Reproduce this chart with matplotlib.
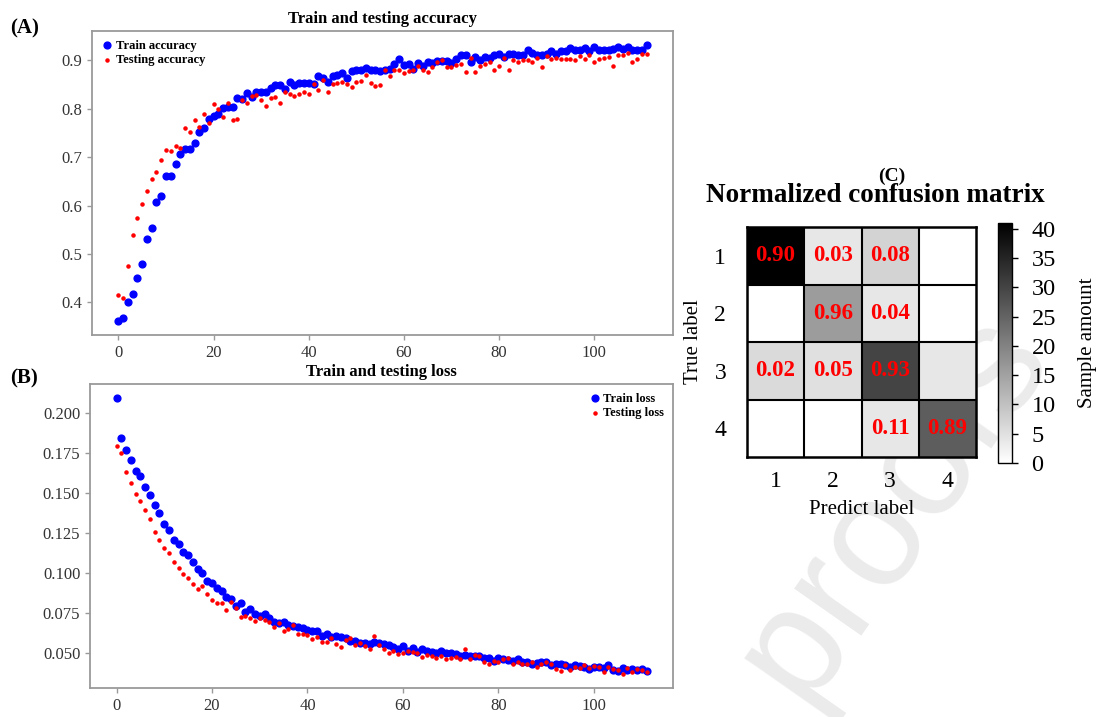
import numpy as np
import matplotlib
matplotlib.use("Agg")
import matplotlib.pyplot as plt

plt.rcParams['font.family'] = ['Liberation Serif', 'DejaVu Serif']

# ---------------- data ----------------
epochs = list(range(112))

train_acc = [0.361, 0.368, 0.401, 0.417, 0.451, 0.479, 0.530, 0.554, 0.607, 0.620,
             0.660, 0.660, 0.686, 0.706, 0.716, 0.716, 0.729, 0.752, 0.760, 0.779,
             0.785, 0.789, 0.802, 0.804, 0.804, 0.822, 0.820, 0.833, 0.825, 0.835,
             0.835, 0.834, 0.843, 0.848, 0.849, 0.841, 0.856, 0.848, 0.853, 0.854,
             0.854, 0.851, 0.867, 0.863, 0.855, 0.868, 0.870, 0.873, 0.864, 0.878,
             0.879, 0.879, 0.884, 0.881, 0.880, 0.878, 0.881, 0.882, 0.892, 0.903,
             0.890, 0.892, 0.883, 0.894, 0.888, 0.896, 0.895, 0.899, 0.899, 0.898,
             0.895, 0.903, 0.911, 0.911, 0.896, 0.906, 0.900, 0.907, 0.905, 0.910,
             0.912, 0.907, 0.914, 0.914, 0.910, 0.911, 0.921, 0.916, 0.911, 0.911,
             0.914, 0.919, 0.912, 0.919, 0.919, 0.925, 0.921, 0.921, 0.925, 0.920,
             0.928, 0.922, 0.922, 0.922, 0.924, 0.928, 0.923, 0.928, 0.921, 0.921,
             0.922, 0.932]

test_acc = [0.416, 0.409, 0.476, 0.539, 0.574, 0.603, 0.631, 0.654, 0.669, 0.695,
            0.714, 0.712, 0.723, 0.719, 0.761, 0.751, 0.776, 0.763, 0.789, 0.770,
            0.809, 0.800, 0.782, 0.811, 0.776, 0.779, 0.818, 0.811, 0.827, 0.828,
            0.818, 0.806, 0.823, 0.825, 0.811, 0.835, 0.830, 0.827, 0.830, 0.835,
            0.830, 0.851, 0.839, 0.859, 0.834, 0.851, 0.853, 0.855, 0.851, 0.844,
            0.855, 0.858, 0.869, 0.854, 0.846, 0.848, 0.879, 0.867, 0.879, 0.879,
            0.873, 0.877, 0.879, 0.888, 0.879, 0.876, 0.886, 0.897, 0.900, 0.886,
            0.886, 0.891, 0.893, 0.875, 0.905, 0.876, 0.888, 0.893, 0.897, 0.879,
            0.888, 0.905, 0.881, 0.901, 0.897, 0.900, 0.900, 0.897, 0.905, 0.886,
            0.908, 0.902, 0.905, 0.902, 0.903, 0.902, 0.901, 0.908, 0.903, 0.910,
            0.897, 0.902, 0.905, 0.907, 0.888, 0.911, 0.910, 0.915, 0.897, 0.903,
            0.912, 0.912]

train_loss = [0.2098, 0.1844, 0.1773, 0.1712, 0.1640, 0.1610, 0.1540, 0.1488, 0.1425, 0.1375,
              0.1306, 0.1269, 0.1208, 0.1183, 0.1133, 0.1115, 0.1069, 0.1025, 0.1002, 0.0954,
              0.0938, 0.0906, 0.0892, 0.0852, 0.0838, 0.0796, 0.0813, 0.0758, 0.0775, 0.0746,
              0.0733, 0.0744, 0.0723, 0.0696, 0.0690, 0.0698, 0.0679, 0.0669, 0.0663, 0.0656,
              0.0646, 0.0642, 0.0642, 0.0610, 0.0621, 0.0604, 0.0606, 0.0600, 0.0594, 0.0577,
              0.0579, 0.0567, 0.0563, 0.0556, 0.0573, 0.0567, 0.0555, 0.0550, 0.0536, 0.0529,
              0.0548, 0.0517, 0.0531, 0.0506, 0.0529, 0.0517, 0.0506, 0.0500, 0.0513, 0.0502,
              0.0500, 0.0494, 0.0485, 0.0488, 0.0485, 0.0481, 0.0485, 0.0473, 0.0469, 0.0452,
              0.0471, 0.0463, 0.0456, 0.0450, 0.0463, 0.0446, 0.0444, 0.0433, 0.0442, 0.0444,
              0.0448, 0.0425, 0.0433, 0.0431, 0.0429, 0.0413, 0.0425, 0.0423, 0.0413, 0.0402,
              0.0413, 0.0413, 0.0408, 0.0427, 0.0394, 0.0390, 0.0410, 0.0396, 0.0404, 0.0396,
              0.0400, 0.0392]

test_loss = [0.1798, 0.1752, 0.1633, 0.1565, 0.1498, 0.1450, 0.1398, 0.1340, 0.1260, 0.1208,
             0.1160, 0.1125, 0.1071, 0.1031, 0.0994, 0.0969, 0.0931, 0.0902, 0.0923, 0.0869,
             0.0831, 0.0817, 0.0817, 0.0773, 0.0819, 0.0783, 0.0725, 0.0735, 0.0723, 0.0702,
             0.0719, 0.0710, 0.0696, 0.0665, 0.0688, 0.0638, 0.0654, 0.0675, 0.0619, 0.0623,
             0.0617, 0.0588, 0.0602, 0.0573, 0.0569, 0.0598, 0.0558, 0.0538, 0.0583, 0.0594,
             0.0550, 0.0567, 0.0546, 0.0529, 0.0606, 0.0550, 0.0527, 0.0504, 0.0517, 0.0496,
             0.0504, 0.0517, 0.0506, 0.0500, 0.0479, 0.0490, 0.0483, 0.0473, 0.0485, 0.0463,
             0.0473, 0.0479, 0.0463, 0.0525, 0.0463, 0.0488, 0.0483, 0.0444, 0.0431, 0.0452,
             0.0444, 0.0463, 0.0473, 0.0431, 0.0448, 0.0435, 0.0435, 0.0446, 0.0417, 0.0431,
             0.0448, 0.0433, 0.0404, 0.0390, 0.0425, 0.0396, 0.0417, 0.0406, 0.0427, 0.0406,
             0.0421, 0.0415, 0.0385, 0.0417, 0.0400, 0.0396, 0.0369, 0.0406, 0.0381, 0.0400,
             0.0396, 0.0381]

class_labels = ['1', '2', '3', '4']
sample_counts = [[41, 4, 7, 0],
                 [0, 16, 4, 0],
                 [6, 5, 30, 4],
                 [0, 0, 4, 26]]
norm_text = [['0.90', '0.03', '0.08', ''],
             ['', '0.96', '0.04', ''],
             ['0.02', '0.05', '0.93', ''],
             ['', '', '0.11', '0.89']]
cbar_ticks = [0, 5, 10, 15, 20, 25, 30, 35, 40]

# ---------------- figure ----------------
W, H = 1097, 717
fig = plt.figure(figsize=(W / 100, H / 100), dpi=100)

def fax(l, t, r, b):
    return fig.add_axes([l / W, 1 - b / H, (r - l) / W, (b - t) / H])

spine_col = '#9a9a9a'
tick_col = '#333333'

def style_line_axes(ax):
    for s in ax.spines.values():
        s.set_color(spine_col)
        s.set_linewidth(1.3)
    ax.tick_params(axis='both', colors=spine_col, labelcolor=tick_col,
                   labelsize=12, length=3.5, width=1)

# watermark, behind everything
fig.text(893 / W, 1 - 505 / H, 'proofs', fontsize=112, color='#ebebeb',
         rotation=55, ha='center', va='center', family='Liberation Sans', zorder=-5)

# Panel A
axA = fax(92, 31, 673, 335)
axA.scatter(epochs, train_acc, s=24, c='blue', label='Train accuracy', zorder=3)
axA.scatter(epochs, test_acc, s=5, c='red', label='Testing accuracy', zorder=3)
axA.set_yticks([0.4, 0.5, 0.6, 0.7, 0.8, 0.9])
axA.set_xticks([0, 20, 40, 60, 80, 100])
style_line_axes(axA)
axA.set_title('Train and testing accuracy', fontsize=12, fontweight='bold', pad=6)
axA.legend(loc='upper left', frameon=False, prop={'weight': 'bold', 'size': 9},
           handletextpad=0.2, labelspacing=0.2, borderaxespad=0.3,
           scatterpoints=1, handlelength=1.0)

# Panel B
axB = fax(90, 384, 673, 688)
axB.scatter(epochs, train_loss, s=24, c='blue', label='Train loss', zorder=3)
axB.scatter(epochs, test_loss, s=5, c='red', label='Testing loss', zorder=3)
axB.set_yticks([0.050, 0.075, 0.100, 0.125, 0.150, 0.175, 0.200])
axB.set_yticklabels(['0.050', '0.075', '0.100', '0.125', '0.150', '0.175', '0.200'])
axB.set_xticks([0, 20, 40, 60, 80, 100])
style_line_axes(axB)
axB.set_title('Train and testing loss', fontsize=12, fontweight='bold', pad=6)
axB.legend(loc='upper right', frameon=False, prop={'weight': 'bold', 'size': 9},
           handletextpad=0.2, labelspacing=0.2, borderaxespad=0.3,
           scatterpoints=1, handlelength=1.0)

fig.text(10 / W, 1 - 28 / H, '(A)', fontsize=15, fontweight='bold', va='center', ha='left')
fig.text(10 / W, 1 - 378 / H, '(B)', fontsize=15, fontweight='bold', va='center', ha='left')

# Panel C
axC = fax(747, 227, 976, 457)
axC.patch.set_alpha(0)
cm = np.array(sample_counts)
im = axC.imshow(cm, cmap='gray_r', vmin=0, vmax=41, aspect='auto')
for k in [0.5, 1.5, 2.5]:
    axC.axhline(k, color='black', lw=1.5)
    axC.axvline(k, color='black', lw=1.5)
for s in axC.spines.values():
    s.set_color('black')
    s.set_linewidth(1.8)
for i in range(4):
    for j in range(4):
        if norm_text[i][j]:
            axC.text(j, i, norm_text[i][j], ha='center', va='center', color='red',
                     fontsize=16.5, fontweight='bold')
axC.set_xticks(range(4))
axC.set_yticks(range(4))
axC.set_xticklabels(class_labels)
axC.set_yticklabels(class_labels)
axC.tick_params(axis='both', length=0, labelsize=17)
axC.tick_params(axis='y', pad=15)
axC.tick_params(axis='x', pad=10)
axC.set_xlabel('Predict label', fontsize=15, labelpad=6)
axC.set_ylabel('True label', fontsize=15, labelpad=8)

fig.text(892 / W, 1 - 176 / H, '(C)', fontsize=14, fontweight='bold', ha='center', va='center')
fig.text(875 / W, 1 - 196 / H, 'Normalized confusion matrix', fontsize=19.5,
         fontweight='bold', ha='center', va='center')

cax = fax(998, 223, 1012, 463)
cb = fig.colorbar(im, cax=cax, ticks=cbar_ticks)
cb.outline.set_linewidth(1.0)
cb.ax.tick_params(labelsize=17.5, length=4, width=1, pad=10)
cb.set_label('Sample amount', fontsize=15, labelpad=16)

fig.savefig('out.png', dpi=100)
